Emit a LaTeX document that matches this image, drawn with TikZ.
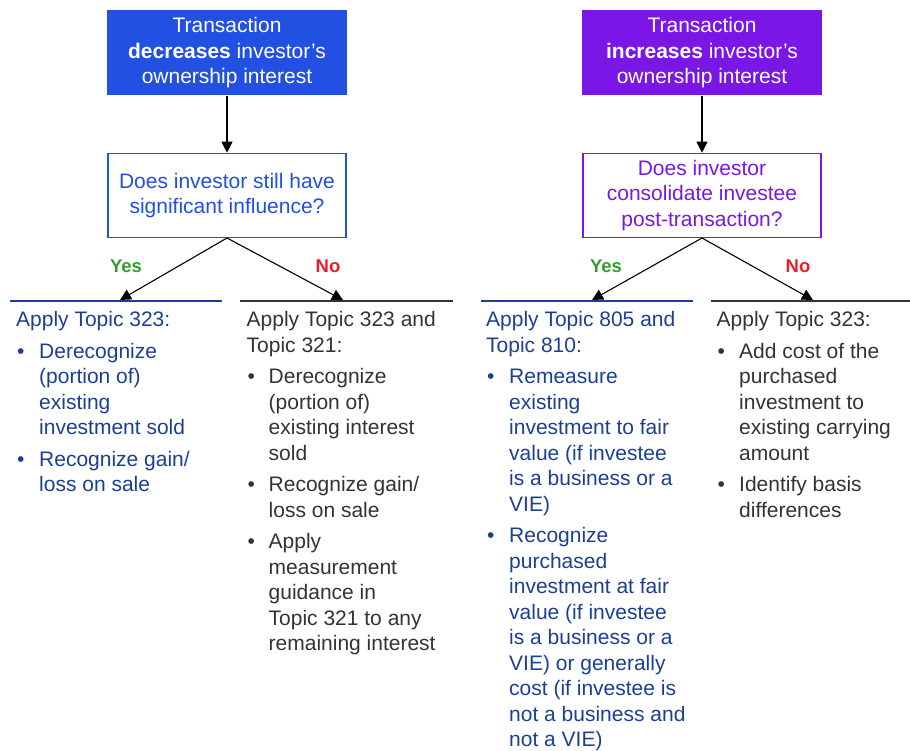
\documentclass[tikz,border=0pt]{standalone}
\usepackage{fontspec}
\setmainfont{Liberation Sans}
\usetikzlibrary{arrows.meta,positioning,calc}

\definecolor{dec-blue}{HTML}{2150E2}
\definecolor{inc-purple}{HTML}{7A17E6}
\definecolor{text-navy}{HTML}{1C3F94}
\definecolor{text-gray}{HTML}{333333}
\definecolor{yes-green}{HTML}{2E9E2E}
\definecolor{no-red}{HTML}{EE1C25}

\begin{document}
\begin{tikzpicture}[x=1pt, y=-1pt,
    every node/.style={font=\fontsize{21}{25.5}\selectfont},
    topbox/.style={minimum width=240pt, minimum height=85pt, inner sep=0pt, align=center, text=white},
    askbox/.style={draw, line width=1.3pt, fill=white, minimum width=238pt, minimum height=84pt, inner sep=0pt, align=center},
    flow-arrow/.style={-{Triangle[length=11pt,width=11pt]}, line width=1.1pt},
    answer/.style={font=\fontsize{18.5}{22}\selectfont\bfseries},
    shelf/.style={line width=2pt},
    body/.style={anchor=base west, inner sep=0pt, align=left},
    bullet-mark/.style={anchor=base west, inner sep=0pt}]
        \useasboundingbox (0,0) rectangle (910,751);

        \node[topbox, fill=dec-blue] (dec-box) at (227,53) {Transaction\\\textbf{decreases} investor’s\\ownership interest};
        \node[askbox, draw=dec-blue, text=dec-blue, below = 57pt of dec-box] (dec-ask) {Does investor still have\\significant influence?};
        \node[topbox, fill=inc-purple] (inc-box) at (702,53) {Transaction\\\textbf{increases} investor’s\\ownership interest};
        \node[askbox, draw=inc-purple, text=inc-purple, below = 57pt of inc-box] (inc-ask) {Does investor\\consolidate investee\\post-transaction?};

        \draw[flow-arrow] (dec-box) -- (dec-ask);
        \draw[flow-arrow] (inc-box) -- (inc-ask);

        \coordinate (dec-yes-end) at (120,300);
        \coordinate (dec-no-end) at (343,300);
        \coordinate (inc-yes-end) at (592,300);
        \coordinate (inc-no-end) at (813,300);
        \draw[flow-arrow] (dec-ask.south) -- (dec-yes-end);
        \draw[flow-arrow] (dec-ask.south) -- (dec-no-end);
        \draw[flow-arrow] (inc-ask.south) -- (inc-yes-end);
        \draw[flow-arrow] (inc-ask.south) -- (inc-no-end);

        \node[answer, text=yes-green] (dec-yes) at (126,266) {Yes};
        \node[answer, text=no-red] (dec-no) at (328,266) {No};
        \node[answer, text=yes-green] (inc-yes) at (606,266) {Yes};
        \node[answer, text=no-red] (inc-no) at (798,266) {No};

        \draw[shelf, text-navy] (10,301) -- (222,301);
        \draw[shelf, text-gray] (240,301) -- (453,301);
        \draw[shelf, text-navy] (481,301) -- (693,301);
        \draw[shelf, text-gray] (711,301) -- (910,301);

        % decreases, yes
        \node[body, text=text-navy] (dec-yes-head) at (16,326.5) {Apply Topic 323:};
        \node[bullet-mark, text=text-navy] (dec-yes-dot-1) at (17,358) {\textbullet};
        \node[body, text=text-navy] (dec-yes-item-1) at (39,434.5) {Derecognize\\(portion of)\\existing\\investment sold};
        \node[bullet-mark, text=text-navy] (dec-yes-dot-2) at (17,466) {\textbullet};
        \node[body, text=text-navy] (dec-yes-item-2) at (39,491.5) {Recognize gain/\\loss on sale};

        % decreases, no
        \node[body, text=text-gray] (dec-no-head) at (246.5,352) {Apply Topic 323 and\\Topic 321:};
        \node[bullet-mark, text=text-gray] (dec-no-dot-1) at (247.5,383.5) {\textbullet};
        \node[body, text=text-gray] (dec-no-item-1) at (268.5,460) {Derecognize\\(portion of)\\existing interest\\sold};
        \node[bullet-mark, text=text-gray] (dec-no-dot-2) at (247.5,491.5) {\textbullet};
        \node[body, text=text-gray] (dec-no-item-2) at (268.5,517) {Recognize gain/\\loss on sale};
        \node[bullet-mark, text=text-gray] (dec-no-dot-3) at (247.5,548.5) {\textbullet};
        \node[body, text=text-gray] (dec-no-item-3) at (268.5,650.5) {Apply\\measurement\\guidance in\\Topic 321 to any\\remaining interest};

        % increases, yes
        \node[body, text=text-navy] (inc-yes-head) at (486,352) {Apply Topic 805 and\\Topic 810:};
        \node[bullet-mark, text=text-navy] (inc-yes-dot-1) at (487,383.5) {\textbullet};
        \node[body, text=text-navy] (inc-yes-item-1) at (509,511) {Remeasure\\existing\\investment to fair\\value (if investee\\is a business or a\\VIE)};
        \node[bullet-mark, text=text-navy] (inc-yes-dot-2) at (487,542.5) {\textbullet};
        \node[body, text=text-navy] (inc-yes-item-2) at (509,746.5) {Recognize\\purchased\\investment at fair\\value (if investee\\is a business or a\\VIE) or generally\\cost (if investee is\\not a business and\\not a VIE)};

        % increases, no
        \node[body, text=text-gray] (inc-no-head) at (716.5,326.5) {Apply Topic 323:};
        \node[bullet-mark, text=text-gray] (inc-no-dot-1) at (717.5,358) {\textbullet};
        \node[body, text=text-gray] (inc-no-item-1) at (739,460) {Add cost of the\\purchased\\investment to\\existing carrying\\amount};
        \node[bullet-mark, text=text-gray] (inc-no-dot-2) at (717.5,491.5) {\textbullet};
        \node[body, text=text-gray] (inc-no-item-2) at (739,517) {Identify basis\\differences};
\end{tikzpicture}
\end{document}
